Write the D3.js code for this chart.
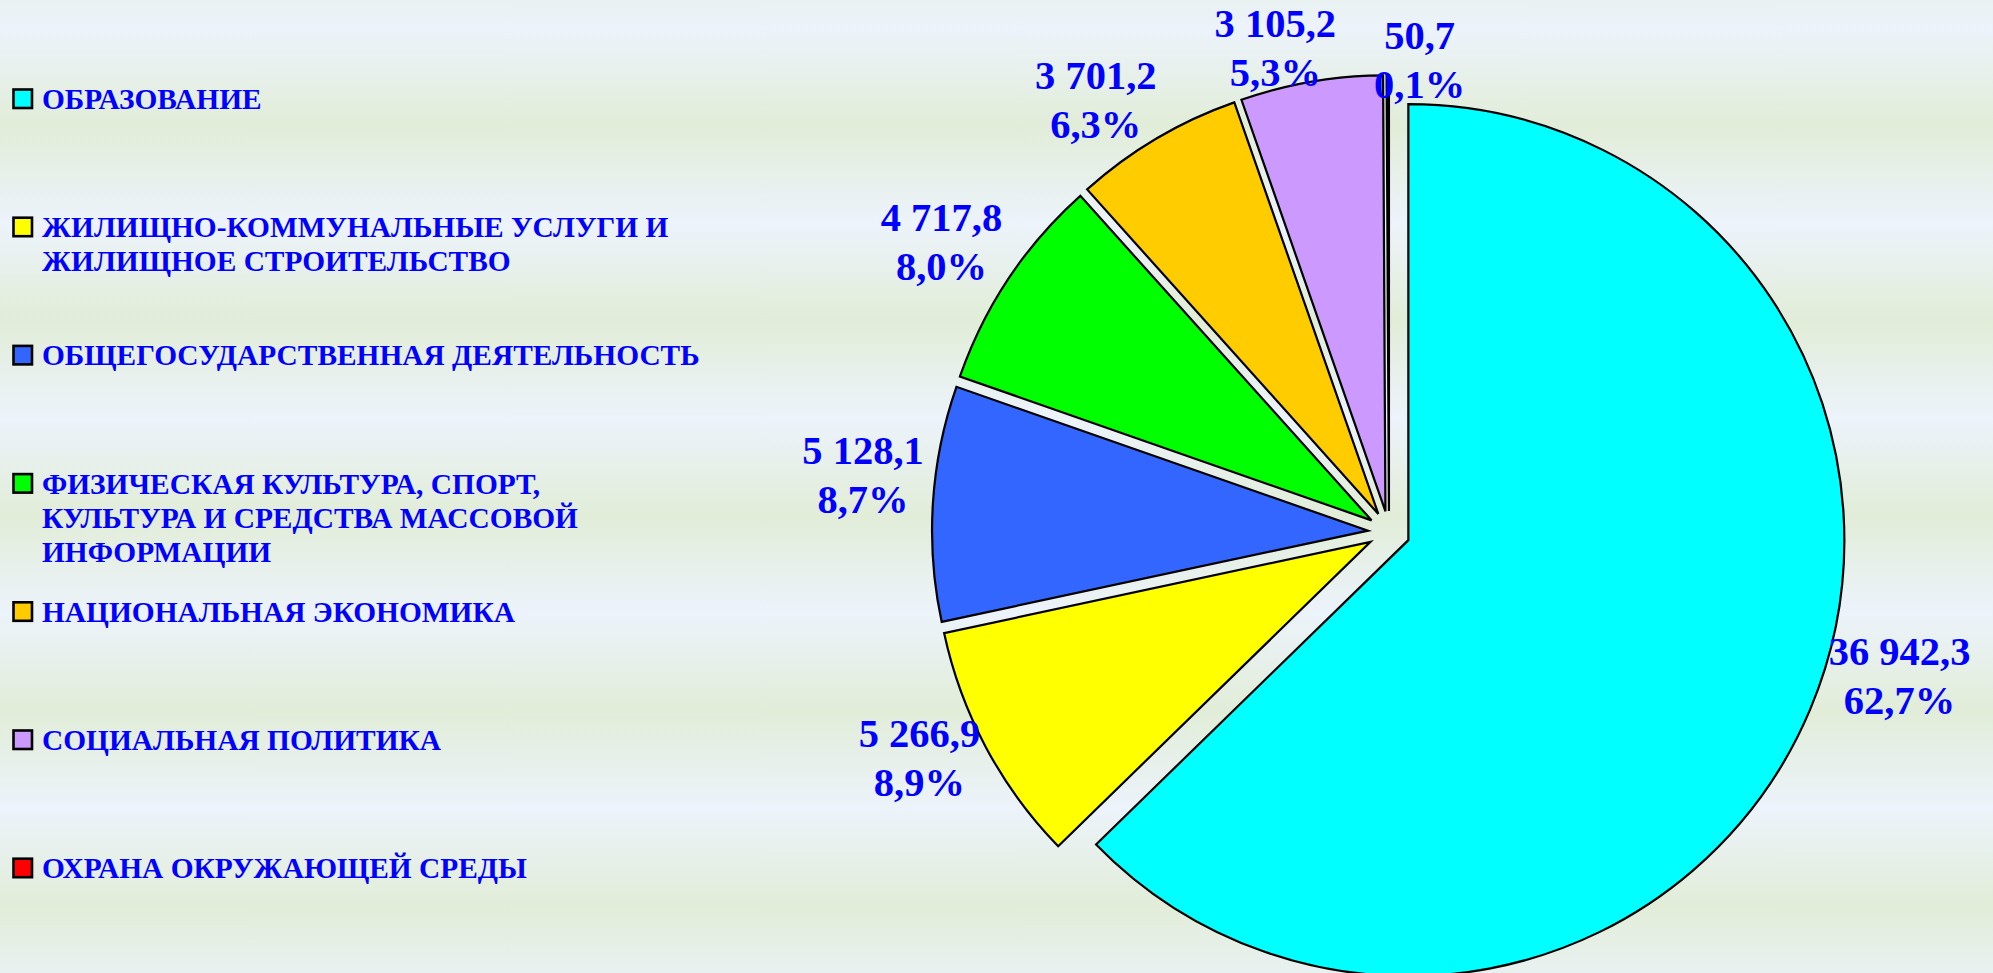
<!DOCTYPE html>
<html>
<head>
<meta charset="utf-8">
<script src="https://cdnjs.cloudflare.com/ajax/libs/d3/7.8.5/d3.min.js"></script>
<style>
  html, body { margin: 0; padding: 0; overflow: hidden; background: #ECF3FB; }
  svg { display: block; }
  text { font-family: "Liberation Serif", "Times New Roman", serif; font-weight: bold; }
</style>
</head>
<body>
<svg id="chart" width="1993" height="973"></svg>
<script>
// ---- data ----
// legend labels; "\n" marks the line breaks shown in the legend
const categories = [
  "ОБРАЗОВАНИЕ",
  "ЖИЛИЩНО-КОММУНАЛЬНЫЕ УСЛУГИ И\nЖИЛИЩНОЕ СТРОИТЕЛЬСТВО",
  "ОБЩЕГОСУДАРСТВЕННАЯ ДЕЯТЕЛЬНОСТЬ",
  "ФИЗИЧЕСКАЯ КУЛЬТУРА, СПОРТ,\nКУЛЬТУРА И СРЕДСТВА МАССОВОЙ\nИНФОРМАЦИИ",
  "НАЦИОНАЛЬНАЯ ЭКОНОМИКА",
  "СОЦИАЛЬНАЯ ПОЛИТИКА",
  "ОХРАНА ОКРУЖАЮЩЕЙ СРЕДЫ"
];
const values = [36942.3, 5266.9, 5128.1, 4717.8, 3701.2, 3105.2, 50.7];
const colors = ["#00FFFF", "#FFFF00", "#3366FF", "#00FF00", "#FFCC00", "#CC99FF", "#FF0000"];

// ---- layout (not data) ----
const W = 1993, H = 973;
const cx = 1389, cy = 532, R = 436, explode = 21;
const labelR = 527;
const labelNudge = [[25, -61], [-5, -23], [0, -24], [-9, 2], [-25, 22], [-24, 35], [32, 55]];

const svg = d3.select("#chart");

// background: soft horizontal bands
const defs = svg.append("defs");
const grad = defs.append("linearGradient")
  .attr("id", "bg").attr("gradientUnits", "userSpaceOnUse")
  .attr("x1", 0).attr("x2", 0).attr("y1", 28).attr("y2", 223)
  .attr("spreadMethod", "repeat");
grad.append("stop").attr("offset", 0).attr("stop-color", "#ECF3FB");
grad.append("stop").attr("offset", 0.5).attr("stop-color", "#E1EDD8");
grad.append("stop").attr("offset", 1).attr("stop-color", "#ECF3FB");
svg.append("rect").attr("width", W).attr("height", H).attr("fill", "url(#bg)");

// pie
const total = d3.sum(values);
const pie = d3.pie().sort(null).value(d => d).startAngle(0).endAngle(2 * Math.PI);
const arcs = pie(values);
const arc = d3.arc().innerRadius(0).outerRadius(R);

const g = svg.append("g").attr("transform", `translate(${cx},${cy})`);
g.selectAll("path.slice").data(arcs).enter().append("path")
  .attr("class", "slice")
  .attr("d", arc)
  .attr("fill", (d, i) => colors[i])
  .attr("stroke", "#000")
  .attr("stroke-width", 2.2)
  .attr("stroke-linejoin", "miter")
  .attr("transform", d => {
    const m = (d.startAngle + d.endAngle) / 2;
    return `translate(${explode * Math.sin(m)},${-explode * Math.cos(m)})`;
  });

// labels
const loc = d3.formatLocale({ decimal: ",", thousands: " ", grouping: [3], currency: ["", ""] });
const fmtVal = loc.format(",.1f");
const fmtPct = v => loc.format(".1f")(v * 100) + "%";

const lab = g.selectAll("g.lab").data(arcs).enter().append("g")
  .attr("class", "lab")
  .attr("transform", (d, i) => {
    const m = (d.startAngle + d.endAngle) / 2;
    const x = labelR * Math.sin(m) + labelNudge[i][0];
    const y = -labelR * Math.cos(m) + labelNudge[i][1];
    return `translate(${x},${y})`;
  });
lab.append("text")
  .attr("text-anchor", "middle").attr("y", -11)
  .attr("font-size", 40.5).attr("fill", "#0000FF")
  .text(d => fmtVal(d.value));
lab.append("text")
  .attr("text-anchor", "middle").attr("y", 38)
  .attr("font-size", 40.5).attr("fill", "#0000FF")
  .text(d => fmtPct(d.value / total));

// legend
const legX = 13.5, legY0 = 109, legStep = 128.2, lineH = 34;
const leg = svg.append("g");
categories.forEach((name, i) => {
  const y = legY0 + i * legStep;
  leg.append("rect")
    .attr("x", legX).attr("y", y - 19.5)
    .attr("width", 18.5).attr("height", 18.5)
    .attr("fill", colors[i]).attr("stroke", "#000").attr("stroke-width", 2.6);
  const t = leg.append("text")
    .attr("x", 42).attr("y", y)
    .attr("font-size", 29.4).attr("fill", "#0000FF");
  name.split("\n").forEach((ln, k) => {
    t.append("tspan").attr("x", 42).attr("y", y + k * lineH).text(ln);
  });
});
</script>
</body>
</html>
